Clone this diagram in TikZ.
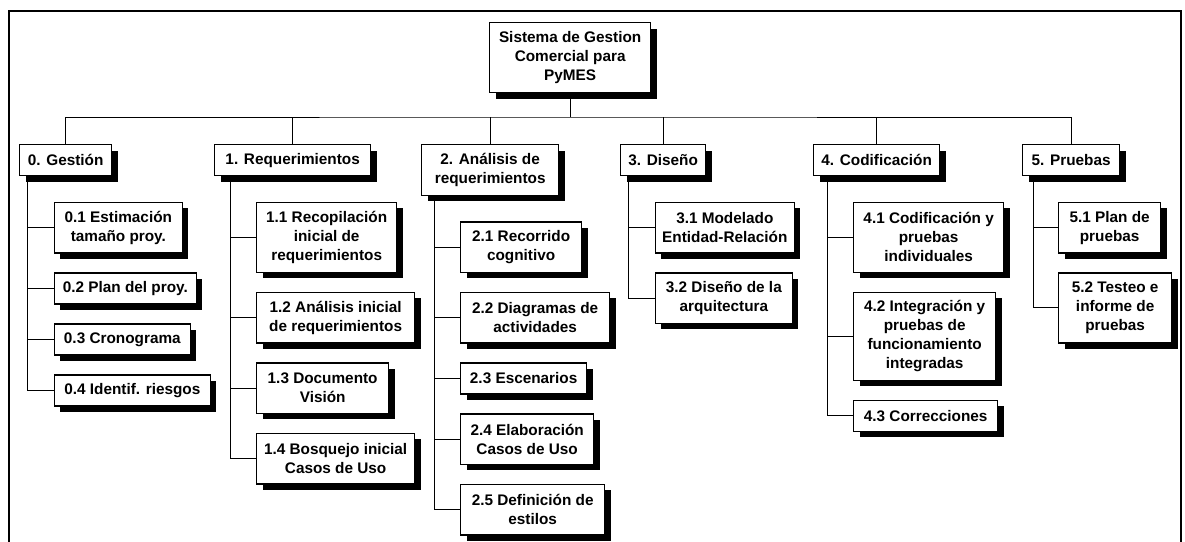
\documentclass[tikz,border=0pt]{standalone}
\usepackage{fontspec}
\setmainfont{Liberation Sans}
\usetikzlibrary{positioning,shadows}

\begin{document}
\begin{tikzpicture}[
  x=0.75pt, y=-0.75pt,
  wbs/.style={rectangle, draw, fill=white, line width=1pt, align=center, inner sep=1.5pt,
    font=\bfseries\fontsize{11.5pt}{14.25pt}\selectfont,
    drop shadow={shadow xshift=4.5pt, shadow yshift=-4.5pt, fill=black, opacity=1}},
  h1/.style={minimum height=23.25pt},
  h2/.style={minimum height=37.9pt},
  h3/.style={minimum height=52.5pt},
  h4/.style={minimum height=66pt},
  link/.style={line width=0.75pt},
  node distance=14pt
]
\useasboundingbox (0,0) rectangle (1185,542);
\draw[line width=1.5pt] (9,542) |- (1181,11) -- (1181,542);

% root and first level
\node[wbs, h3, minimum width=120.75pt, anchor=north west] (root) at (489,22) {Sistema de Gestion\\Comercial para\\PyMES};
\node[wbs, h1, minimum width=69pt, anchor=north west] (g) at (19,144) {0. Gestión};
\node[wbs, h1, minimum width=117pt, anchor=north west] (r) at (214,144) {1. Requerimientos};
\node[wbs, h2, minimum width=102.75pt, anchor=north west] (a) at (421,144) {2. Análisis de\\requerimientos};
\node[wbs, h1, minimum width=63.75pt, anchor=north west] (d) at (620,144) {3. Diseño};
\node[wbs, h1, minimum width=94.5pt, anchor=north west] (c) at (813,144) {4. Codificación};
\node[wbs, h1, minimum width=72.75pt, anchor=north west] (p) at (1022,144) {5. Pruebas};

\coordinate (bar) at (568,117);
\draw[link] (root.south) -- (root.south |- bar);
\draw[link] (g.north) |- (bar) -| (p.north);
\foreach \n in {r,a,d,c}
  \draw[link] (\n.north) -- (\n.north |- bar);

% trunks under each first level box
\coordinate (gt) at ([xshift=6pt]g.south west);
\coordinate (rt) at ([xshift=12pt]r.south west);
\coordinate (at) at ([xshift=9.75pt]a.south west);
\coordinate (dt) at ([xshift=6pt]d.south west);
\coordinate (ct) at ([xshift=10.5pt]c.south west);
\coordinate (pt) at ([xshift=8.25pt]p.south west);

% 0. Gestion
\node[wbs, h2, minimum width=96pt, below right=19pt and 20pt of gt] (g1) {0.1 Estimación\\tamaño proy.};
\node[wbs, h1, minimum width=106.5pt, below right=14pt and 0pt of g1.south west] (g2) {0.2 Plan del proy.};
\node[wbs, h1, minimum width=102pt, below right=14pt and 0pt of g2.south west] (g3) {0.3 Cronograma};
\node[wbs, h1, minimum width=117pt, below right=14pt and 0pt of g3.south west] (g4) {0.4 Identif. riesgos};

% 1. Requerimientos
\node[wbs, h3, minimum width=105pt, below right=19pt and 19.5pt of rt] (r1) {1.1 Recopilación\\inicial de\\requerimientos};
\node[wbs, h2, minimum width=118.5pt, below right=14pt and 0pt of r1.south west] (r2) {1.2 Análisis inicial\\de requerimientos};
\node[wbs, h2, minimum width=99pt, below right=14pt and 0pt of r2.south west] (r3) {1.3 Documento\\Visión};
\node[wbs, h2, minimum width=118.5pt, below right=14pt and 0pt of r3.south west] (r4) {1.4 Bosquejo inicial\\Casos de Uso};

% 2. Analisis
\node[wbs, h2, minimum width=90.75pt, below right=19pt and 19.5pt of at] (a1) {2.1 Recorrido\\cognitivo};
\node[wbs, h2, minimum width=111.75pt, below right=14pt and 0pt of a1.south west] (a2) {2.2 Diagramas de\\actividades};
\node[wbs, h1, minimum width=94.5pt, below right=14pt and 0pt of a2.south west] (a3) {2.3 Escenarios};
\node[wbs, h2, minimum width=99.75pt, below right=14pt and 0pt of a3.south west] (a4) {2.4 Elaboración\\Casos de Uso};
\node[wbs, h2, minimum width=108pt, below right=14pt and 0pt of a4.south west] (a5) {2.5 Definición de\\estilos};

% 3. Diseno
\node[wbs, h2, minimum width=104.25pt, below right=19pt and 20pt of dt] (d1) {3.1 Modelado\\Entidad-Relación};
\node[wbs, h2, minimum width=102.75pt, below right=14pt and 0pt of d1.south west] (d2) {3.2 Diseño de la\\arquitectura};

% 4. Codificacion
\node[wbs, h3, minimum width=112.5pt, below right=19pt and 19.5pt of ct] (c1) {4.1 Codificación y\\pruebas\\individuales};
\node[wbs, h4, minimum width=106.5pt, below right=14pt and 0pt of c1.south west] (c2) {4.2 Integración y\\pruebas de\\funcionamiento\\integradas};
\node[wbs, h1, minimum width=108pt, below right=14pt and 0pt of c2.south west] (c3) {4.3 Correcciones};

% 5. Pruebas
\node[wbs, h2, minimum width=76.5pt, below right=19pt and 18.75pt of pt] (p1) {5.1 Plan de\\pruebas};
\node[wbs, h3, minimum width=84.75pt, below right=14pt and 0pt of p1.south west] (p2) {5.2 Testeo e\\informe de\\pruebas};

\foreach \n in {g1,g2,g3,g4} \draw[link] (gt) |- (\n.west);
\foreach \n in {r1,r2,r3,r4} \draw[link] (rt) |- (\n.west);
\foreach \n in {a1,a2,a3,a4,a5} \draw[link] (at) |- (\n.west);
\foreach \n in {d1,d2} \draw[link] (dt) |- (\n.west);
\foreach \n in {c1,c2,c3} \draw[link] (ct) |- (\n.west);
\foreach \n in {p1,p2} \draw[link] (pt) |- (\n.west);
\end{tikzpicture}
\end{document}
